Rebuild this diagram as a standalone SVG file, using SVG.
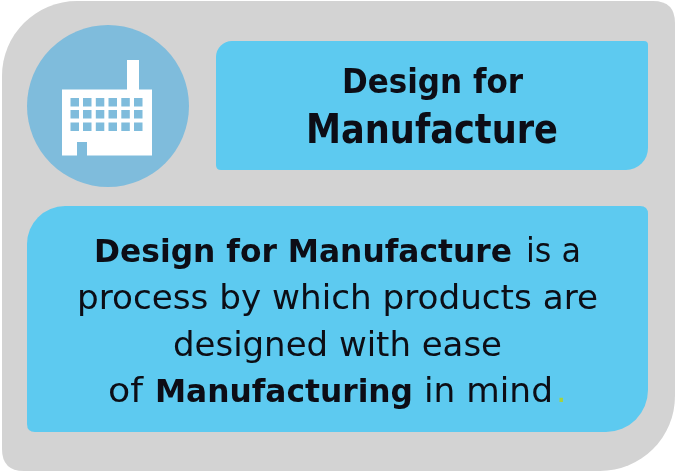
<svg xmlns="http://www.w3.org/2000/svg" width="677" height="472" viewBox="0 0 677 472">
<defs><filter id="soft" x="0" y="0" width="100%" height="100%"><feGaussianBlur stdDeviation="0.6"/></filter></defs>
<style>
text{font-family:"DejaVu Sans","Liberation Sans",sans-serif;fill:#0a0f14}
.b{font-weight:700;font-size:31.500px}
.body{font-size:33px}
.blue{fill:#5dcaf0}
.win{fill:#7fbcdc}
</style>
<rect width="677" height="472" fill="#fff"/>
<g filter="url(#soft)">
<g id="panel"><path d="M77 1H653Q675 1 675 23V396A75 75 0 0 1 600 471H24Q2 471 2 449V76A75 75 0 0 1 77 1Z" fill="#d3d3d3"/></g>
<g id="icon">
<circle cx="108" cy="106" r="81" fill="#7fbcdc"/>
<path d="M62 155.500V89.500H127V60H139V89.500H152V155.500H87V142H77V155.500Z" fill="#fff"/>
<g class="win">
<rect x="70.500" y="98" width="8.500" height="8.500"/><rect x="83" y="98" width="8.500" height="8.500"/><rect x="95.800" y="98" width="8.500" height="8.500"/><rect x="108.500" y="98" width="8.500" height="8.500"/><rect x="121.300" y="98" width="8.500" height="8.500"/><rect x="134" y="98" width="8.500" height="8.500"/>
<rect x="70.500" y="110" width="8.500" height="8.500"/><rect x="83" y="110" width="8.500" height="8.500"/><rect x="95.800" y="110" width="8.500" height="8.500"/><rect x="108.500" y="110" width="8.500" height="8.500"/><rect x="121.300" y="110" width="8.500" height="8.500"/><rect x="134" y="110" width="8.500" height="8.500"/>
<rect x="70.500" y="122.500" width="8.500" height="8.500"/><rect x="83" y="122.500" width="8.500" height="8.500"/><rect x="95.800" y="122.500" width="8.500" height="8.500"/><rect x="108.500" y="122.500" width="8.500" height="8.500"/><rect x="121.300" y="122.500" width="8.500" height="8.500"/><rect x="134" y="122.500" width="8.500" height="8.500"/>
</g>
</g>
<g id="title">
<path class="blue" d="M232 41H644Q648 41 648 45V148A22 22 0 0 1 626 170H221Q216 170 216 165V57A16 16 0 0 1 232 41Z"/>
<text x="342" y="93" font-weight="700" font-size="34" textLength="181" lengthAdjust="spacingAndGlyphs">Design for</text>
<text x="306" y="143" font-weight="700" font-size="40" textLength="252" lengthAdjust="spacingAndGlyphs">Manufacture</text>
</g>
<g id="description">
<path class="blue" d="M65 206H640Q648 206 648 214V390A42 42 0 0 1 606 432H35Q27 432 27 424V244A38 38 0 0 1 65 206Z"/>
<text class="b" x="94" y="262" textLength="418" lengthAdjust="spacingAndGlyphs">Design for Manufacture</text>
<text class="body" x="526" y="262" textLength="55" lengthAdjust="spacingAndGlyphs">is a</text>
<text class="body" x="77" y="309" textLength="521" lengthAdjust="spacingAndGlyphs">process by which products are</text>
<text class="body" x="173" y="356" textLength="329" lengthAdjust="spacingAndGlyphs">designed with ease</text>
<text class="body" x="108" y="402" textLength="35" lengthAdjust="spacingAndGlyphs">of</text>
<text class="b" x="155" y="402" textLength="258" lengthAdjust="spacingAndGlyphs">Manufacturing</text>
<text class="body" x="424" y="402" textLength="129" lengthAdjust="spacingAndGlyphs">in mind</text>
<text class="body" x="556" y="402" style="fill:#a6d23c">.</text>
</g>
</g>
</svg>
